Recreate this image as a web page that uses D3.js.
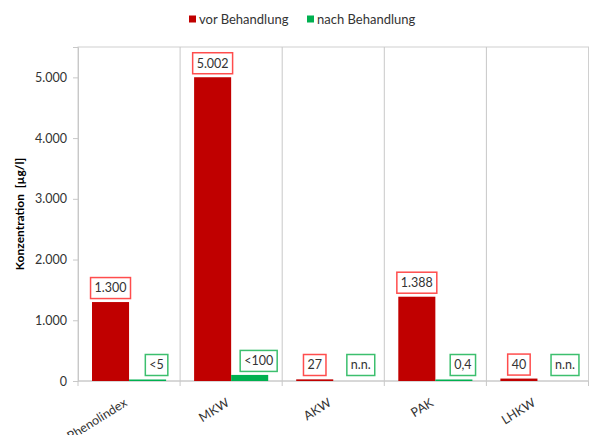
<!DOCTYPE html>
<html>
<head>
<meta charset="utf-8">
<script src="https://cdn.jsdelivr.net/npm/d3@7"></script>
<style>
  body { margin: 0; background: #fff; }
  text { font-family: Lato, "Open Sans", sans-serif; fill: #333; }
</style>
</head>
<body>
<svg width="590" height="435"></svg>
<script>
// Chart data
var categories = ["Phenolindex", "MKW", "AKW", "PAK", "LHKW"];
var seriesNames = ["vor Behandlung", "nach Behandlung"];
var vorValues = [1300, 5002, 27, 1388, 40];
var nachValues = [5, 100, 0, 0.4, 0];
var vorLabels = ["1.300", "5.002", "27", "1.388", "40"];
var nachLabels = ["<5", "<100", "n.n.", "0,4", "n.n."];
var yTicks = [0, 1000, 2000, 3000, 4000, 5000];

var colors = ["#c00000", "#00b050"];
var boxColors = ["#ff4d4d", "#3cbf6e"];

var svg = d3.select("svg");
var margin = {left: 78, top: 47, right: 1.5, bottom: 54};
var width = 590 - margin.left - margin.right,
    height = 435 - margin.top - margin.bottom;

var x = d3.scaleBand().domain(categories).range([0, width]);
var xs = d3.scaleBand().domain([0, 1]).range([14, x.bandwidth() - 14]);
var y = d3.scaleLinear().domain([0, 5500]).range([height, 0]);

var g = svg.append("g").attr("transform", "translate(" + margin.left + "," + margin.top + ")");

// plot frame and vertical gridlines (with ticks below the baseline)
g.append("rect").attr("width", width).attr("height", height)
  .attr("fill", "none").attr("stroke", "#d0d0d0");
g.selectAll(".vgrid").data(categories.concat([null])).enter().append("line")
  .attr("x1", function(d, i){ return i * x.step(); }).attr("x2", function(d, i){ return i * x.step(); })
  .attr("y1", function(d, i){ return (i === 0 || i === categories.length) ? height : 0; })
  .attr("y2", height + 5)
  .attr("stroke", "#c8c8c8");

// y axis
var yAxis = g.append("g")
  .call(d3.axisLeft(y).tickValues(yTicks).tickSize(5).tickPadding(6)
    .tickFormat(function(d){ return d3.format(",")(d).replace(/,/g, "."); }));
yAxis.select(".domain").attr("stroke", "#c8c8c8");
yAxis.selectAll(".tick line").attr("stroke", "#c8c8c8");
yAxis.selectAll("text").attr("font-size", 12.5).style("fill", "#333");

// baseline
g.append("line").attr("x1", 0).attr("x2", width)
  .attr("y1", y(0)).attr("y2", y(0)).attr("stroke", "#c8c8c8");

// x labels
g.selectAll(".xlab").data(categories).enter().append("text")
  .attr("text-anchor", "end")
  .attr("font-size", 12.5)
  .attr("transform", function(d){
    return "translate(" + (x(d) + x.bandwidth() / 2 - 1) + "," + (height + 24) + ") rotate(-32)";
  })
  .text(function(d){ return d; });

// y title
svg.append("text")
  .attr("transform", "translate(24," + (margin.top + height / 2) + ") rotate(-90)")
  .attr("text-anchor", "middle").attr("font-size", 12).attr("font-weight", "bold")
  .style("fill", "#000")
  .style("white-space", "pre")
  .text("Konzentration  [µg/l]");

// bars
var series = [vorValues, nachValues];
var labels = [vorLabels, nachLabels];
series.forEach(function(vals, s) {
  g.selectAll(".bar" + s).data(vals.filter(function(d){ return true; })).enter().append("rect")
    .attr("x", function(d, i){ return x(categories[i]) + xs(s); })
    .attr("width", xs.bandwidth())
    .attr("y", function(d){ return d > 0 ? Math.min(y(d), y(0) - 1.5) : y(0); })
    .attr("height", function(d){ return d > 0 ? Math.max(1.5, y(0) - y(d)) : 0; })
    .attr("fill", colors[s]);
});

// value labels with boxes
series.forEach(function(vals, s) {
  var lab = g.selectAll(".lab" + s).data(vals).enter().append("g")
    .attr("transform", function(d, i){
      var cx = x(categories[i]) + xs(s) + xs.bandwidth() / 2 + (s === 1 ? 9 : 0);
      var top = Math.min(y(d), y(0) - 2);
      return "translate(" + cx + "," + (top - 14) + ")";
    });
  lab.append("text")
    .attr("text-anchor", "middle").attr("dy", "0.35em")
    .attr("font-size", 12.5)
    .text(function(d, i){ return labels[s][i]; });
  lab.each(function() {
    var t = d3.select(this).select("text");
    var bb = t.node().getBBox();
    d3.select(this).insert("rect", "text")
      .attr("x", bb.x - 4).attr("y", -10.5)
      .attr("width", bb.width + 8).attr("height", 21)
      .attr("fill", "#fff").attr("stroke", boxColors[s]).attr("stroke-width", 1.5);
  });
});

// legend
var legend = svg.append("g").attr("transform", "translate(189,19)");
var lx = [0, 118];
seriesNames.forEach(function(name, i) {
  var lg = legend.append("g").attr("transform", "translate(" + lx[i] + ",0)");
  lg.append("rect").attr("x", 0).attr("y", -3.5).attr("width", 7).attr("height", 7).attr("fill", colors[i]);
  lg.append("text").attr("x", 10).attr("dy", "0.35em").attr("font-size", 13).text(name);
});
</script>
</body>
</html>
